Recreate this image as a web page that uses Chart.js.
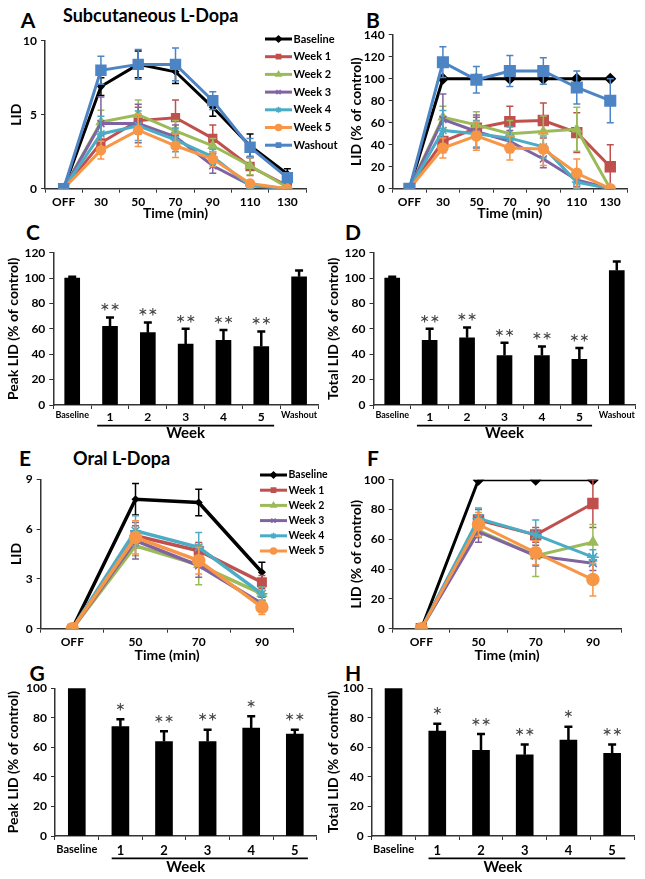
<!DOCTYPE html>
<html>
<head>
<meta charset="utf-8">
<script src="https://cdn.jsdelivr.net/npm/chart.js@4.4.1/dist/chart.umd.min.js"></script>
<style>
  html, body { margin: 0; padding: 0; background: #fff; }
  body { width: 645px; height: 879px; position: relative; overflow: hidden; font-family: Lato, "Open Sans", sans-serif; }
  canvas { position: absolute; }
  .lt { position: absolute; width: 30px; text-align: center; font: bold 21px Lato, sans-serif; line-height: 24px; color: #000; }
  .tt { position: absolute; font: bold 18px Lato, sans-serif; line-height: 24px; color: #000; white-space: nowrap; }
</style>
</head>
<body>
<div class="lt" style="left:13px;top:8px">A</div>
<div class="tt" style="left:63px;top:3px">Subcutaneous L-Dopa</div>
<div class="lt" style="left:358px;top:8px">B</div>
<div class="lt" style="left:18px;top:220px">C</div>
<div class="lt" style="left:338px;top:220px">D</div>
<div class="lt" style="left:10px;top:446px">E</div>
<div class="tt" style="left:73px;top:446px">Oral L-Dopa</div>
<div class="lt" style="left:358px;top:446px">F</div>
<div class="lt" style="left:22px;top:661px">G</div>
<div class="lt" style="left:338px;top:661px">H</div>

<canvas id="cA"></canvas>
<canvas id="cB"></canvas>
<canvas id="cC"></canvas>
<canvas id="cD"></canvas>
<canvas id="cE"></canvas>
<canvas id="cF"></canvas>
<canvas id="cG"></canvas>
<canvas id="cH"></canvas>

<script>
// ---------------- DATA ----------------
const timeCatsSub = ['OFF', '30', '50', '70', '90', '110', '130'];
const timeCatsOral = ['OFF', '50', '70', '90'];
const seriesNamesSub = ['Baseline', 'Week 1', 'Week 2', 'Week 3', 'Week 4', 'Week 5', 'Washout'];
const seriesNamesOral = ['Baseline', 'Week 1', 'Week 2', 'Week 3', 'Week 4', 'Week 5'];
const barCatsSub = ['Baseline', '1', '2', '3', '4', '5', 'Washout'];
const barCatsOral = ['Baseline', '1', '2', '3', '4', '5'];

// Panel A: LID (subcutaneous)
const aBaseline = [0, 6.9, 8.4, 7.9, 5.5, 2.9, 1.0];
const aWeek1    = [0, 3.1, 4.6, 4.8, 3.4, 1.5, 0.2];
const aWeek2    = [0, 4.5, 5.0, 3.9, 2.9, 1.55, 0.1];
const aWeek3    = [0, 4.4, 4.4, 3.5, 1.55, 0.25, 0];
const aWeek4    = [0, 3.7, 4.25, 3.3, 2.15, 0.2, 0];
const aWeek5    = [0, 2.6, 3.95, 2.9, 2.0, 0.35, 0];
const aWashout  = [0, 8.0, 8.4, 8.4, 5.95, 2.8, 0.75];
const aBaselineErr = [0, 0.6, 0.9, 0.8, 0.6, 0.8, 0.35];
const aWeek1Err    = [0, 0.5, 0.9, 1.2, 0.9, 0.6, 0.2];
const aWeek2Err    = [0, 0.8, 1.0, 0.7, 0.5, 0.6, 0.1];
const aWeek3Err    = [0, 1.8, 1.3, 0.8, 0.5, 0.2, 0];
const aWeek4Err    = [0, 1.2, 1.0, 0.8, 0.5, 0.2, 0];
const aWeek5Err    = [0, 0.6, 1.1, 0.8, 0.5, 0.2, 0];
const aWashoutErr  = [0, 0.95, 1.0, 1.1, 0.6, 0.6, 0.3];

// Panel B: LID (% of control), subcutaneous
const bBaseline = [0, 100, 100, 100, 100, 100, 100];
const bWeek1    = [0, 43, 55, 61, 62, 51, 20];
const bWeek2    = [0, 65, 58, 50, 52, 54, 0];
const bWeek3    = [0, 63, 52, 43, 27, 8, 0];
const bWeek4    = [0, 53, 50, 46, 38, 6, 0];
const bWeek5    = [0, 37, 48, 37, 36, 14, 0];
const bWashout  = [0, 115, 99, 107, 107, 92, 80];
const bBaselineErr = [0, 0, 0, 0, 0, 0, 0];
const bWeek1Err    = [0, 10, 10, 14, 16, 18, 20];
const bWeek2Err    = [0, 10, 12, 12, 14, 20, 0];
const bWeek3Err    = [0, 23, 15, 10, 8, 6, 0];
const bWeek4Err    = [0, 18, 12, 10, 10, 6, 0];
const bWeek5Err    = [0, 9, 13, 11, 15, 13, 0];
const bWashoutErr  = [0, 14, 12, 14, 12, 15, 20];

// Panel C: Peak LID (% of control), subcutaneous
const cPeak    = [100, 62, 57, 48, 51, 46, 101];
const cPeakErr = [1, 7, 8, 12, 8, 12, 5];
const cStars   = ['', '**', '**', '**', '**', '**', ''];

// Panel D: Total LID (% of control), subcutaneous
const dTotal    = [100, 51, 53, 39, 39, 36, 106];
const dTotalErr = [1, 9, 8, 10, 7, 9, 7];
const dStars    = ['', '**', '**', '**', '**', '**', ''];

// Panel E: LID (oral)
const eBaseline = [0, 7.8, 7.6, 3.4];
const eWeek1    = [0, 5.6, 4.7, 2.8];
const eWeek2    = [0, 5.0, 3.85, 2.1];
const eWeek3    = [0, 5.3, 3.8, 1.5];
const eWeek4    = [0, 5.9, 4.9, 2.1];
const eWeek5    = [0, 5.5, 4.1, 1.3];
const eBaselineErr = [0, 0.95, 0.8, 0.6];
const eWeek1Err    = [0, 0.6, 0.5, 0.4];
const eWeek2Err    = [0, 0.6, 1.2, 0.4];
const eWeek3Err    = [0, 1.1, 0.7, 0.4];
const eWeek4Err    = [0, 0.9, 0.9, 0.4];
const eWeek5Err    = [0, 1.0, 0.8, 0.45];

// Panel F: LID (% of control), oral
const fBaseline = [0, 100, 100, 100];
const fWeek1    = [0, 73, 63, 84];
const fWeek2    = [0, 66, 49, 58];
const fWeek3    = [0, 65, 49, 44];
const fWeek4    = [0, 74, 63, 48];
const fWeek5    = [0, 70, 51, 33];
const fBaselineErr = [0, 0, 0, 0];
const fWeek1Err    = [0, 7, 5, 16];
const fWeek2Err    = [0, 5, 14, 12];
const fWeek3Err    = [0, 7, 7, 5];
const fWeek4Err    = [0, 7, 10, 5];
const fWeek5Err    = [0, 8, 8, 11];

// Panel G: Peak LID (% of control), oral
const gPeak    = [100, 74, 64, 64, 73, 69];
const gPeakErr = [0, 5, 7, 8, 8, 3];
const gStars   = ['', '*', '**', '**', '*', '**'];

// Panel H: Total LID (% of control), oral
const hTotal    = [100, 71, 58, 55, 65, 56];
const hTotalErr = [0, 5, 11, 7, 9, 6];
const hStars    = ['', '*', '**', '**', '*', '**'];

// ---------------- STYLE ----------------
const FONT = 'Lato, "Open Sans", sans-serif';
const AXIS_COLOR = '#333';
const seriesStyle = [
  { color: '#000000', point: 'rectRot' },
  { color: '#C0504D', point: 'rect' },
  { color: '#9BBB59', point: 'triangle' },
  { color: '#8064A2', point: 'crossRot' },
  { color: '#4BACC6', point: 'star' },
  { color: '#F79646', point: 'circle' },
  { color: '#4C84C4', point: 'rect' }
];

// ---------------- PLUGINS ----------------
const errorBarPlugin = {
  id: 'errorBars',
  afterDatasetDraw(chart, args) {
    const ds = chart.data.datasets[args.index];
    if (!ds.errors) return;
    const ys = chart.scales.y;
    const ctx = chart.ctx;
    ctx.save();
    ctx.strokeStyle = ds.errorColor || ds.borderColor;
    ctx.lineWidth = ds.errorWidth || 1.5;
    args.meta.data.forEach((el, i) => {
      const v = ds.data[i], e = ds.errors[i];
      if (!e) return;
      const x = el.x;
      const yt = ys.getPixelForValue(v + e);
      const yb = ys.getPixelForValue(ds.errorPlusOnly ? v : Math.max(v - e, 0));
      const cw = ds.errorCap || 3.5;
      ctx.beginPath();
      ctx.moveTo(x, yt); ctx.lineTo(x, yb);
      ctx.moveTo(x - cw, yt); ctx.lineTo(x + cw, yt);
      if (!ds.errorPlusOnly) { ctx.moveTo(x - cw, yb); ctx.lineTo(x + cw, yb); }
      ctx.stroke();
    });
    ctx.restore();
  }
};

const sideLegendPlugin = {
  id: 'sideLegend',
  afterDraw(chart, args, o) {
    if (!o || !o.show) return;
    const ctx = chart.ctx;
    const names = o.names;
    names.forEach((name, i) => {
      const ds = chart.data.datasets[i];
      const y = o.y0 + i * o.dy;
      ctx.save();
      ctx.strokeStyle = ds.borderColor;
      ctx.lineWidth = o.lineWidth;
      ctx.beginPath(); ctx.moveTo(o.x, y); ctx.lineTo(o.x + o.len, y); ctx.stroke();
      ctx.fillStyle = ds.pointBackgroundColor;
      ctx.strokeStyle = ds.borderColor;
      ctx.lineWidth = 1.5;
      if (Chart.helpers && Chart.helpers.drawPoint) {
        Chart.helpers.drawPoint(ctx, { pointStyle: ds.pointStyle, radius: o.markerRadius, rotation: 0, borderWidth: 1.5 }, o.x + o.len / 2, y);
      }
      ctx.fillStyle = '#000';
      ctx.font = o.font;
      ctx.textAlign = 'left';
      ctx.textBaseline = 'middle';
      ctx.fillText(name, o.x + o.len + 1.5, y);
      ctx.restore();
    });
  }
};

const starsPlugin = {
  id: 'stars',
  afterDatasetsDraw(chart, args, o) {
    if (!o || !o.labels) return;
    const ds = chart.data.datasets[0];
    const meta = chart.getDatasetMeta(0);
    const ys = chart.scales.y;
    const ctx = chart.ctx;
    ctx.save();
    ctx.font = o.font;
    ctx.fillStyle = o.color;
    ctx.textAlign = 'center';
    ctx.textBaseline = 'middle';
    meta.data.forEach((el, i) => {
      const s = o.labels[i];
      if (!s) return;
      const top = ys.getPixelForValue(ds.data[i] + (ds.errors ? ds.errors[i] : 0));
      ctx.fillText(s, el.x, top - o.gap);
    });
    ctx.restore();
  }
};

const weekLinePlugin = {
  id: 'weekLine',
  afterDraw(chart, args, o) {
    if (!o || !o.show) return;
    const xs = chart.scales.x;
    const sp = xs.getPixelForTick(1) - xs.getPixelForTick(0);
    const x1 = xs.getPixelForTick(o.from) - o.extL * sp;
    const x2 = xs.getPixelForTick(o.to) + o.extR * sp;
    const y = chart.chartArea.bottom + o.dy;
    const ctx = chart.ctx;
    ctx.save();
    ctx.strokeStyle = '#000';
    ctx.lineWidth = 1.8;
    ctx.beginPath(); ctx.moveTo(x1, y); ctx.lineTo(x2, y); ctx.stroke();
    ctx.restore();
  }
};

Chart.register(errorBarPlugin, sideLegendPlugin, starsPlugin, weekLinePlugin);

// ---------------- HELPERS ----------------
function makeChart(id, box, area, config) {
  const cv = document.getElementById(id);
  cv.width = box.w; cv.height = box.h;
  cv.style.left = box.x + 'px'; cv.style.top = box.y + 'px';
  cv.style.width = box.w + 'px'; cv.style.height = box.h + 'px';
  const o = config.options;
  o.responsive = false;
  o.animation = false;
  o.devicePixelRatio = 1;
  o.layout = { padding: { left: 0, top: area.top - box.y, right: box.x + box.w - area.right, bottom: 0 } };
  o.scales.y.afterFit = s => { s.width = area.left - box.x; };
  o.scales.x.afterFit = s => { s.height = box.y + box.h - area.bottom; };
  o.plugins = Object.assign({ legend: { display: false }, tooltip: { enabled: false } }, o.plugins || {});
  return new Chart(cv, config);
}

function yScale(min, max, step, title, titleSize, titlePad) {
  return {
    type: 'linear', min: min, max: max,
    ticks: { stepSize: step, padding: 4, color: '#000', font: { family: FONT, size: 12, weight: 'bold' } },
    grid: { drawOnChartArea: false, drawTicks: true, tickLength: 4, color: AXIS_COLOR, lineWidth: 1 },
    border: { display: true, color: AXIS_COLOR, width: 1.5 },
    title: { display: true, text: title, color: '#000', font: { family: FONT, size: titleSize, weight: 'bold' }, padding: { top: titlePad, bottom: 0 } }
  };
}

function xCatScale(title, titleSize, titlePadBottom, tickPad, fontFn) {
  return {
    type: 'category', offset: true,
    ticks: { padding: tickPad, color: '#000', autoSkip: false, maxRotation: 0, font: fontFn || { family: FONT, size: 12, weight: 'bold' } },
    grid: { offset: true, drawOnChartArea: false, drawTicks: true, tickLength: 4, color: AXIS_COLOR, lineWidth: 1 },
    border: { display: true, color: AXIS_COLOR, width: 1.5 },
    title: { display: !!title, text: title, color: '#000', font: { family: FONT, size: titleSize, weight: 'bold' }, padding: { top: 0, bottom: titlePadBottom } }
  };
}

function lineDatasets(names, values, errs, sizes, lineWidth) {
  const n = names.length;
  return names.map((name, i) => ({
    label: name,
    data: values[i],
    errors: errs[i],
    borderColor: seriesStyle[i].color,
    backgroundColor: seriesStyle[i].color,
    pointBackgroundColor: seriesStyle[i].color,
    pointBorderColor: seriesStyle[i].color,
    pointStyle: seriesStyle[i].point,
    pointRadius: sizes[i],
    pointBorderWidth: 1.5,
    borderWidth: lineWidth,
    tension: 0,
    order: n - 1 - i,
    errorWidth: 1.5,
    errorCap: 3.5
  }));
}

function barDataset(values, errs) {
  return [{
    data: values, errors: errs, errorPlusOnly: true,
    backgroundColor: '#000', borderColor: '#000', borderWidth: 0,
    errorColor: '#000', errorWidth: 2.5, errorCap: 4
  }];
}

// ---------------- PANEL A ----------------
makeChart('cA', { x: 0, y: 28, w: 340, h: 195 }, { left: 45, top: 40.7, right: 306, bottom: 188.7 }, {
  type: 'line',
  data: {
    labels: timeCatsSub,
    datasets: lineDatasets(seriesNamesSub,
      [aBaseline, aWeek1, aWeek2, aWeek3, aWeek4, aWeek5, aWashout],
      [aBaselineErr, aWeek1Err, aWeek2Err, aWeek3Err, aWeek4Err, aWeek5Err, aWashoutErr],
      [3, 5.5, 5, 5, 5, 4.5, 7], 3)
  },
  options: {
    scales: { x: xCatScale('Time (min)', 14, 1, 2), y: yScale(0, 10, 5, 'LID', 14, 8) },
    plugins: { sideLegend: { show: true, names: seriesNamesSub, x: 265, len: 27, y0: 11, dy: 17.7, lineWidth: 3, markerRadius: 3, font: 'bold 11px ' + FONT } }
  }
});

// ---------------- PANEL B ----------------
makeChart('cB', { x: 322, y: 20, w: 323, h: 203 }, { left: 392.7, top: 34.7, right: 627, bottom: 188.7 }, {
  type: 'line',
  data: {
    labels: timeCatsSub,
    datasets: lineDatasets(seriesNamesSub,
      [bBaseline, bWeek1, bWeek2, bWeek3, bWeek4, bWeek5, bWashout],
      [bBaselineErr, bWeek1Err, bWeek2Err, bWeek3Err, bWeek4Err, bWeek5Err, bWashoutErr],
      [5, 7, 5, 5, 5, 5, 7.5], 3)
  },
  options: {
    scales: { x: xCatScale('Time (min)', 14, 1, 2), y: yScale(0, 140, 20, 'LID (% of control)', 14, 26) }
  }
});

// ---------------- PANEL C ----------------
const barTickFontSub = c => {
  const lbl = barCatsSub[c.index] || '';
  return { family: FONT, size: lbl.length > 2 ? 9 : 12, weight: 'bold' };
};
makeChart('cC', { x: 0, y: 240, w: 322, h: 205 }, { left: 53.3, top: 252.7, right: 318, bottom: 405 }, {
  type: 'bar',
  data: { labels: barCatsSub, datasets: barDataset(cPeak, cPeakErr) },
  options: {
    datasets: { bar: { barThickness: 15 } },
    scales: { x: xCatScale('Week', 15, 3, 1, barTickFontSub), y: yScale(0, 120, 20, 'Peak LID (% of control)', 14, 5) },
    plugins: {
      stars: { labels: cStars, gap: 5, font: '24px ' + FONT, color: '#444' },
      weekLine: { show: true, from: 1, to: 5, extL: 0.34, extR: 0.34, dy: 20.7 }
    }
  }
});

// ---------------- PANEL D ----------------
makeChart('cD', { x: 322, y: 240, w: 323, h: 205 }, { left: 373.5, top: 252.7, right: 635.5, bottom: 405 }, {
  type: 'bar',
  data: { labels: barCatsSub, datasets: barDataset(dTotal, dTotalErr) },
  options: {
    datasets: { bar: { barThickness: 15 } },
    scales: { x: xCatScale('Week', 15, 3, 1, barTickFontSub), y: yScale(0, 120, 20, 'Total LID (% of control)', 14, 3) },
    plugins: {
      stars: { labels: dStars, gap: 5, font: '24px ' + FONT, color: '#444' },
      weekLine: { show: true, from: 1, to: 5, extL: 0.34, extR: 0.34, dy: 20.7 }
    }
  }
});

// ---------------- PANEL E ----------------
makeChart('cE', { x: 0, y: 465, w: 340, h: 200 }, { left: 40.7, top: 479.3, right: 293.5, bottom: 628.7 }, {
  type: 'line',
  data: {
    labels: timeCatsOral,
    datasets: lineDatasets(seriesNamesOral,
      [eBaseline, eWeek1, eWeek2, eWeek3, eWeek4, eWeek5],
      [eBaselineErr, eWeek1Err, eWeek2Err, eWeek3Err, eWeek4Err, eWeek5Err],
      [3, 6, 5, 5, 5.5, 6], 3.5)
  },
  options: {
    scales: { x: xCatScale('Time (min)', 14, 1, 2), y: yScale(0, 9, 3, 'LID', 14, 8) },
    plugins: { sideLegend: { show: true, names: seriesNamesOral, x: 260, len: 27, y0: 10, dy: 15.2, lineWidth: 3, markerRadius: 3, font: 'bold 10.5px ' + FONT } }
  }
});

// ---------------- PANEL F ----------------
makeChart('cF', { x: 322, y: 465, w: 323, h: 200 }, { left: 392.7, top: 479.7, right: 621.5, bottom: 628.7 }, {
  type: 'line',
  data: {
    labels: timeCatsOral,
    datasets: lineDatasets(seriesNamesOral,
      [fBaseline, fWeek1, fWeek2, fWeek3, fWeek4, fWeek5],
      [fBaselineErr, fWeek1Err, fWeek2Err, fWeek3Err, fWeek4Err, fWeek5Err],
      [5, 7, 5.5, 5.5, 6, 6], 3)
  },
  options: {
    scales: { x: xCatScale('Time (min)', 14, 1, 2), y: yScale(0, 100, 20, 'LID (% of control)', 14, 26) }
  }
});

// ---------------- PANEL G ----------------
const barTickFontOral = c => {
  const lbl = barCatsOral[c.index] || '';
  return { family: FONT, size: lbl.length > 2 ? 11 : 13, weight: 'bold' };
};
makeChart('cG', { x: 0, y: 675, w: 322, h: 204 }, { left: 55, top: 688.3, right: 316.6, bottom: 836 }, {
  type: 'bar',
  data: { labels: barCatsOral, datasets: barDataset(gPeak, gPeakErr) },
  options: {
    datasets: { bar: { barThickness: 17 } },
    scales: { x: xCatScale('Week', 15, 3.3, 3, barTickFontOral), y: yScale(0, 100, 20, 'Peak LID (% of control)', 14, 5) },
    plugins: {
      stars: { labels: gStars, gap: 7, font: '24px ' + FONT, color: '#444' },
      weekLine: { show: true, from: 1, to: 5, extL: 0.2, extR: 0.3, dy: 22.3 }
    }
  }
});

// ---------------- PANEL H ----------------
makeChart('cH', { x: 322, y: 675, w: 323, h: 204 }, { left: 371.7, top: 688.3, right: 634, bottom: 836 }, {
  type: 'bar',
  data: { labels: barCatsOral, datasets: barDataset(hTotal, hTotalErr) },
  options: {
    datasets: { bar: { barThickness: 17 } },
    scales: { x: xCatScale('Week', 15, 3.3, 3, barTickFontOral), y: yScale(0, 100, 20, 'Total LID (% of control)', 14, 3) },
    plugins: {
      stars: { labels: hStars, gap: 7, font: '24px ' + FONT, color: '#444' },
      weekLine: { show: true, from: 1, to: 5, extL: 0.2, extR: 0.3, dy: 22.3 }
    }
  }
});
</script>
</body>
</html>
